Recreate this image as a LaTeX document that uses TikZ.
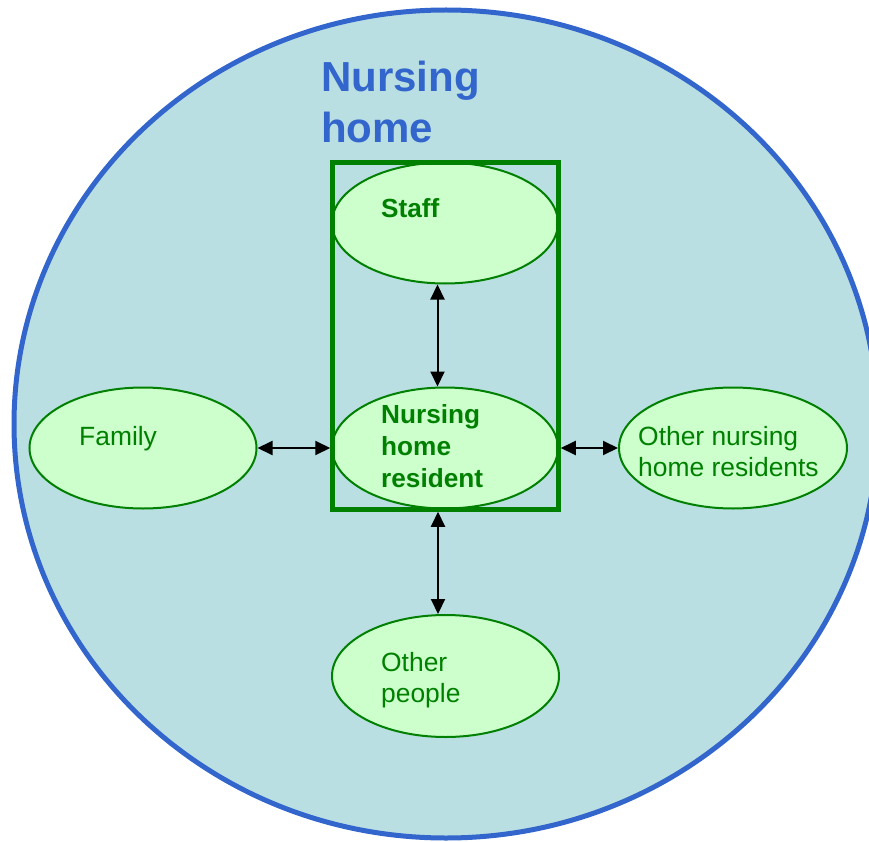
\documentclass[tikz,border=0pt]{standalone}
\usepackage{fontspec}
\setmainfont{Liberation Sans}
\usetikzlibrary{positioning, arrows.meta, shapes.geometric}

\definecolor{ringblue}{RGB}{51,102,204}
\definecolor{ringfill}{RGB}{186,223,226}
\definecolor{nhgreen}{RGB}{0,128,0}
\definecolor{bubblefill}{RGB}{204,255,204}

\tikzset{
  bubble/.style={ellipse, draw=nhgreen, fill=bubblefill, line width=2pt,
                 inner sep=0, minimum width=226pt, minimum height=121pt},
  label txt/.style={text=nhgreen, font=\fontsize{26.4}{31}\selectfont},
  bold txt/.style={text=nhgreen, font=\fontsize{26.2}{32}\selectfont\bfseries},
  title txt/.style={text=ringblue, font=\fontsize{42}{50}\selectfont\bfseries},
  link/.style={line width=2pt, {Triangle[length=15pt,width=14pt]}-{Triangle[length=15pt,width=14pt]}}
}

\begin{document}
\begin{tikzpicture}[x=1pt,y=-1pt,every node/.style={inner sep=0}]
      \useasboundingbox (0,0) rectangle (869,842);

      % the home as a whole
      \node(world)[ellipse, draw=ringblue, fill=ringfill, line width=5pt,
                   minimum width=864pt, minimum height=828pt] at (446,424){};

      \node(staff)[bubble] at (445,223){};
      \node(resident)[bubble] at (445,448){};
      \node(family)[bubble, minimum width=227pt] at (143,448){};
      \node(others)[bubble, minimum width=228pt] at (733,448){};
      \node(people)[bubble, minimum width=227pt, minimum height=122pt] at (445.5,676){};

      \node(nhbox)[draw=nhgreen, line width=4.5pt, minimum width=226pt,
                   minimum height=347pt] at (445.5,336){};

      \draw[link](family.east)--(family.east -| nhbox.west);
      \draw[link](nhbox.east |- others.west)--(others.west);
      \draw[link]([xshift=-7.5pt]staff.south)--([xshift=-7.5pt]resident.north);
      \draw[link]([xshift=-7.5pt]nhbox.south)--([xshift=-7.5pt]people.north);

      % texts
      \node(nhA)[title txt, anchor=base west] at (321,92){Nursing\strut};
      \node(nhB)[title txt, below=0mm of nhA.south west, anchor=north west]{home\strut};

      \node(staffA)[bold txt, anchor=base west] at (381,218){Staff\strut};

      \node(resA)[bold txt, anchor=base west] at (381,423){Nursing\strut};
      \node(resB)[bold txt, below=0mm of resA.south west, anchor=north west]{home\strut};
      \node(resC)[bold txt, below=0mm of resB.south west, anchor=north west]{resident\strut};

      \node(famA)[label txt, anchor=base west] at (79,445){Family\strut};

      \node(othA)[label txt, anchor=base west] at (638,445){Other nursing\strut};
      \node(othB)[label txt, below=0mm of othA.south west, anchor=north west]{home residents\strut};

      \node(pplA)[label txt, anchor=base west] at (381,671){Other\strut};
      \node(pplB)[label txt, below=0mm of pplA.south west, anchor=north west]{people\strut};
\end{tikzpicture}
\end{document}
